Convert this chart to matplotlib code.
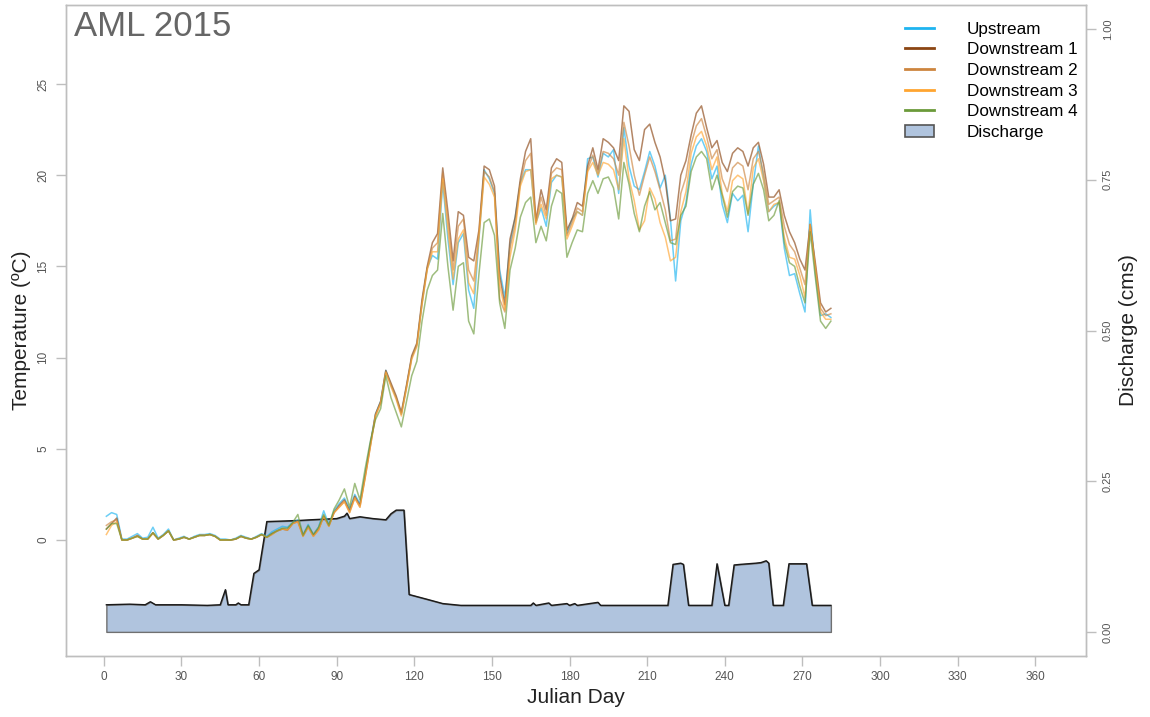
import matplotlib
matplotlib.use("Agg")
import matplotlib.pyplot as plt
from matplotlib.lines import Line2D
from matplotlib.patches import Patch
import numpy as np

plt.rcParams['font.family'] = ['Liberation Sans', 'DejaVu Sans']

# ---------------- data ----------------
temp_days = list(range(1, 282, 2))

upstream = [
    1.3, 1.5, 1.4, 0.05, 0.05, 0.2, 0.35, 0.1, 0.15, 0.7,
    0.1, 0.3, 0.6, 0.0, 0.1, 0.2, 0.05, 0.2, 0.3, 0.3,
    0.35, 0.25, 0.05, 0.05, 0.0, 0.1, 0.25, 0.15, 0.05, 0.2,
    0.35, 0.2, 0.45, 0.6, 0.75, 0.7, 0.95, 1.1, 0.3, 0.85,
    0.3, 0.7, 1.6, 0.85, 1.6, 2.0, 2.3, 1.7, 2.5, 2.0,
    3.6, 5.3, 6.9, 7.6, 9.3, 8.5, 7.8, 6.9, 8.4, 10.0,
    10.7, 13.0, 14.9, 15.6, 15.4, 19.6, 16.5, 14.0, 16.3, 16.8,
    13.7, 12.7, 16.5, 20.3, 19.8, 19.0, 14.8, 13.3, 16.2, 17.7,
    19.6, 20.3, 20.3, 17.4, 18.2, 17.2, 19.6, 20.0, 19.9, 16.8,
    17.6, 18.0, 17.8, 20.9, 21.0, 19.9, 21.2, 21.0, 21.4, 19.0,
    22.6, 20.5, 19.4, 19.2, 20.2, 21.3, 20.5, 19.3, 20.0, 17.6,
    14.2, 17.5, 18.5, 20.6, 21.6, 22.0, 21.3, 19.8, 20.5, 18.4,
    17.4, 19.0, 18.6, 18.9, 16.9, 19.5, 21.6, 19.8, 18.0, 18.3,
    18.5, 16.0, 14.5, 14.6, 13.5, 12.5, 18.1, 14.6, 12.3, 12.4,
    12.2]

downstream1 = [
    0.6, 0.9, 1.2, 0.0, 0.0, 0.1, 0.25, 0.05, 0.05, 0.4,
    0.05, 0.25, 0.5, 0.0, 0.05, 0.15, 0.05, 0.15, 0.25, 0.25,
    0.3, 0.2, 0.0, 0.0, 0.0, 0.05, 0.2, 0.1, 0.05, 0.15,
    0.3, 0.15, 0.35, 0.5, 0.6, 0.55, 0.9, 1.05, 0.25, 0.75,
    0.25, 0.6, 1.3, 0.8, 1.5, 1.9, 2.2, 1.6, 2.4, 1.9,
    3.5, 5.2, 6.9, 7.6, 9.3, 8.6, 7.9, 7.0, 8.5, 10.1,
    10.8, 13.2, 15.0, 16.3, 16.8, 20.4, 18.0, 15.3, 18.0, 17.8,
    15.5, 15.3, 17.0, 20.5, 20.3, 19.4, 14.5, 12.9, 16.5, 17.7,
    19.8, 21.3, 22.0, 17.5, 19.2, 18.1, 20.4, 20.9, 20.7, 17.0,
    17.6, 18.5, 18.3, 20.5, 21.5, 20.3, 22.0, 21.8, 21.5, 20.8,
    23.8, 23.5, 21.4, 20.8, 22.5, 22.8, 21.8, 21.0, 19.7, 17.5,
    17.6, 20.0, 20.8, 22.2, 23.4, 23.8, 22.6, 21.5, 21.9, 20.7,
    20.2, 21.2, 21.5, 21.3, 20.5, 21.5, 21.8, 20.6, 18.8, 18.8,
    19.2, 17.8, 16.9, 16.3, 15.4, 14.8, 17.3, 15.2, 13.0, 12.5,
    12.7]

downstream2 = [
    0.8, 1.0, 1.1, 0.0, 0.0, 0.1, 0.2, 0.05, 0.05, 0.4,
    0.05, 0.25, 0.5, 0.0, 0.05, 0.15, 0.05, 0.15, 0.25, 0.25,
    0.3, 0.2, 0.0, 0.0, 0.0, 0.05, 0.2, 0.1, 0.05, 0.15,
    0.3, 0.15, 0.3, 0.5, 0.6, 0.55, 0.9, 1.0, 0.2, 0.7,
    0.2, 0.55, 1.3, 0.75, 1.5, 1.8, 2.1, 1.5, 2.3, 1.8,
    3.4, 5.1, 6.8, 7.5, 9.2, 8.5, 7.8, 6.9, 8.4, 10.0,
    10.7, 13.0, 14.9, 16.0, 16.3, 20.1, 17.5, 14.8, 17.2, 17.6,
    14.8, 14.2, 16.8, 20.2, 19.9, 19.1, 13.2, 12.5, 16.0, 17.3,
    19.6, 20.8, 21.2, 17.4, 18.8, 17.8, 20.1, 20.4, 20.3, 16.7,
    17.4, 18.2, 18.0, 20.3, 21.1, 20.1, 21.3, 21.2, 20.9, 20.0,
    22.9, 21.6, 20.0, 18.9, 20.0, 21.0, 20.2, 19.2, 18.1, 16.4,
    16.5, 19.0, 19.9, 21.7, 22.7, 23.1, 22.1, 20.9, 21.4, 19.8,
    19.1, 20.4, 20.7, 20.5, 19.2, 20.9, 21.3, 20.1, 18.4, 18.6,
    18.8, 17.2, 16.2, 15.8, 14.9, 14.0, 17.3, 15.0, 12.7, 12.3,
    12.4]

downstream3 = [
    0.3, 0.8, 1.0, 0.0, 0.0, 0.1, 0.2, 0.05, 0.05, 0.35,
    0.05, 0.25, 0.5, 0.0, 0.05, 0.15, 0.05, 0.15, 0.25, 0.25,
    0.3, 0.2, 0.0, 0.0, 0.0, 0.05, 0.2, 0.1, 0.05, 0.15,
    0.3, 0.15, 0.3, 0.5, 0.6, 0.55, 0.9, 1.0, 0.2, 0.7,
    0.2, 0.55, 1.3, 0.75, 1.5, 1.8, 2.1, 1.5, 2.3, 1.8,
    3.4, 5.1, 6.8, 7.5, 9.2, 8.4, 7.7, 6.8, 8.3, 9.9,
    10.6, 12.9, 14.8, 15.8, 15.8, 19.8, 17.0, 14.3, 16.5, 17.0,
    14.1, 13.5, 16.6, 19.9, 19.5, 18.8, 14.0, 12.6, 15.5, 17.0,
    19.4, 20.2, 20.3, 17.3, 18.4, 17.6, 19.8, 20.0, 19.9, 16.5,
    17.2, 18.0, 17.8, 20.2, 20.7, 20.0, 20.7, 20.6, 20.3, 19.2,
    22.0, 19.8, 18.6, 17.0, 17.5, 19.3, 18.7, 17.4, 16.6, 15.3,
    15.5, 18.0, 19.1, 21.2, 22.1, 22.4, 21.6, 20.3, 21.0, 19.0,
    18.0, 19.7, 20.0, 19.8, 17.9, 20.4, 20.9, 19.7, 18.0, 18.4,
    18.5, 16.6, 15.5, 15.4, 14.5, 13.3, 17.3, 14.8, 12.5, 12.1,
    12.1]

downstream4 = [
    0.6, 0.9, 0.9, 0.0, 0.0, 0.1, 0.2, 0.05, 0.05, 0.4,
    0.05, 0.25, 0.5, 0.0, 0.05, 0.15, 0.05, 0.15, 0.25, 0.25,
    0.3, 0.2, 0.0, 0.0, 0.0, 0.05, 0.2, 0.1, 0.05, 0.15,
    0.3, 0.15, 0.35, 0.5, 0.65, 0.65, 0.95, 1.4, 0.25, 0.8,
    0.3, 0.7, 1.4, 0.8, 1.7, 2.2, 2.8, 1.8, 3.1, 2.2,
    3.9, 5.4, 6.6, 7.2, 9.0, 7.8, 7.0, 6.2, 7.6, 9.0,
    9.8, 12.0, 13.7, 14.5, 14.8, 17.9, 15.0, 12.6, 15.0, 15.2,
    12.0, 11.3, 14.6, 17.4, 17.6, 16.7, 13.0, 11.6, 14.8, 16.0,
    17.7, 18.5, 18.8, 16.3, 17.2, 16.4, 18.3, 19.2, 19.0, 15.5,
    16.3, 17.0, 16.9, 19.0, 19.7, 19.0, 19.8, 19.9, 19.3, 17.6,
    20.7, 19.5, 17.9, 16.9, 18.3, 19.1, 18.1, 18.5, 17.4, 16.3,
    16.2, 17.8, 18.3, 20.2, 21.0, 21.3, 20.9, 19.2, 20.0, 18.9,
    17.7, 19.1, 19.4, 19.3, 17.8, 19.5, 20.1, 19.2, 17.5, 17.8,
    18.6, 16.3, 15.2, 15.0, 13.9, 13.0, 16.9, 14.4, 12.0, 11.6,
    12.0]

discharge_days = [1, 10, 16, 18, 20, 30, 40, 45, 47, 48, 51, 52, 53, 56, 58, 60, 61, 63,
                  70, 76, 80, 85, 90, 93, 94, 95, 99, 104, 109, 111, 113, 116, 118, 125,
                  131, 138, 150, 165, 166, 167, 172, 173, 179, 180, 182, 183, 191, 192,
                  200, 218, 220, 223, 224, 226, 235, 237, 240, 241.5, 243.6, 246, 252,
                  254, 256, 257, 258.7, 262.6, 264.8, 271.6, 273.8, 281]
discharge = [0.045, 0.046, 0.045, 0.050, 0.045, 0.045, 0.044, 0.045, 0.070, 0.045,
             0.045, 0.048, 0.045, 0.045, 0.097, 0.103, 0.130, 0.183,
             0.184, 0.185, 0.186, 0.187, 0.188, 0.192, 0.197, 0.188, 0.191, 0.188,
             0.186, 0.196, 0.202, 0.202, 0.062, 0.054,
             0.047, 0.044, 0.044, 0.044, 0.048, 0.044, 0.048, 0.044, 0.047, 0.044,
             0.047, 0.044, 0.049, 0.044,
             0.044, 0.044, 0.112, 0.114, 0.112, 0.044, 0.044, 0.113, 0.044, 0.044,
             0.111, 0.112, 0.114, 0.115, 0.118, 0.114, 0.044, 0.044, 0.113, 0.113,
             0.044, 0.044]

series_names = ["Upstream", "Downstream 1", "Downstream 2", "Downstream 3", "Downstream 4"]
series_colors = ["#1EB4F0", "#8B4513", "#CD853F", "#FFA530", "#6B9A3A"]
x_ticks = list(range(0, 361, 30))
temp_ticks = [0, 5, 10, 15, 20, 25]
q_ticks = [0.00, 0.25, 0.50, 0.75, 1.00]

# ---------------- figure ----------------
fig = plt.figure(figsize=(11.5, 7.17), dpi=100)
ax = fig.add_axes([66/1150, 61/717, 1020/1150, 651/717])
ax2 = ax.twinx()
ax.set_zorder(ax2.get_zorder() + 1)
ax.patch.set_visible(False)

gray = "#555555"
frame = "#BEBEBE"

# discharge polygon
ax2.fill_between(discharge_days, 0, discharge, facecolor="#B0C4DE",
                 edgecolor="#707070", linewidth=1.0, zorder=1)
ax2.plot(discharge_days, discharge, color="#1a1a1a", lw=1.0, zorder=2)
ax2.set_ylim(-0.04, 1.04)
ax2.set_yticks(q_ticks)
ax2.set_yticklabels([f"{v:.2f}" for v in q_ticks], rotation=90, va="center",
                    fontsize=8, color=gray)
ax2.set_ylabel("Discharge (cms)", fontsize=15, color="#222222")
ax2.yaxis.set_label_coords((1119 - 66) / 1020, 0.5)

# temperature lines
data = [upstream, downstream1, downstream2, downstream3, downstream4]
for name, vals, col in zip(series_names, data, series_colors):
    ax.plot(temp_days, vals, color=col, lw=1.1, alpha=0.65, zorder=3)

ax.set_xlim(-14.6, 379.6)
ax.set_ylim(-6.36, 29.33)
ax.set_xticks(x_ticks)
ax.set_xticklabels([str(t) for t in x_ticks], fontsize=8.5, color=gray)
ax.set_yticks(temp_ticks)
ax.set_yticklabels([str(t) for t in temp_ticks], rotation=90, va="center",
                   fontsize=8.5, color=gray)
ax.set_xlabel("Julian Day", fontsize=15, color="#222222", labelpad=4)
ax.set_ylabel("Temperature (ºC)", fontsize=15, color="#222222")
ax.yaxis.set_label_coords((31 - 66) / 1020, 0.5)

for a in (ax, ax2):
    for s in a.spines.values():
        s.set_color(frame)
        s.set_linewidth(1.0)
    a.tick_params(colors=frame, length=7, width=1.0, labelcolor=gray)
ax.tick_params(axis="y", pad=5)
ax2.tick_params(axis="y", pad=5)

ax.text(0.008, 0.993, "AML 2015", transform=ax.transAxes, fontsize=25,
        color="#666666", ha="left", va="top")

handles = [Line2D([0], [0], color=c, lw=2) for c in series_colors]
handles.append(Patch(facecolor="#B0C4DE", edgecolor="#555555", linewidth=1.2))
leg = ax.legend(handles, series_names + ["Discharge"], loc="upper right",
                bbox_to_anchor=(1.0017, 0.99), frameon=False, fontsize=12.3,
                handlelength=1.75, handletextpad=1.9, labelspacing=0.33,
                borderaxespad=0.2)

fig.savefig("out.png", dpi=100)
